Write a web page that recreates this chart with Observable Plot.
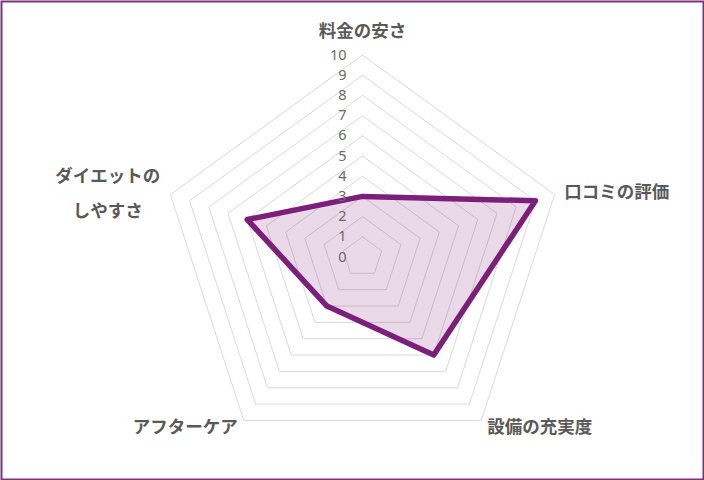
<!DOCTYPE html>
<html>
<head>
<meta charset="utf-8">
<script src="https://cdn.jsdelivr.net/npm/d3@7"></script>
<script src="https://cdn.jsdelivr.net/npm/@observablehq/plot@0.6"></script>
<style>
  html, body { margin: 0; padding: 0; background: #fff; }
  #chart svg { display: block; }
</style>
</head>
<body>
<div id="chart"></div>
<script>
const categories = ["料金の安さ", "口コミの評価", "設備の充実度", "アフターケア", "ダイエットの\nしやすさ"];
const values = [3, 9, 6, 3, 6];
const levels = [1, 2, 3, 4, 5, 6, 7, 8, 9, 10];
const tickLabels = ["0", "1", "2", "3", "4", "5", "6", "7", "8", "9", "10"];
const maxValue = 10;

const n = categories.length;
const angle = i => (2 * Math.PI * i) / n;
const px = (r, i) => r * Math.sin(angle(i));
const py = (r, i) => r * Math.cos(angle(i));

// grid pentagons
const grid = levels.flatMap(l => d3.range(n + 1).map(i => ({level: l, x: px(l, i % n), y: py(l, i % n)})));
// data polygon
const poly = values.map((v, i) => ({x: px(v, i), y: py(v, i)}));
// tick labels along the top axis
const ticks = tickLabels.map((t, k) => ({label: t, x: 0, y: k}));
// category labels
const labelR = [11.45, 10.5, 10.5, 10.5, 10.5];
const labels = categories.map((c, i) => ({label: c, x: px(labelR[i], i), y: py(labelR[i], i)}));

const cx = 362, cy = 256.5, R = 202;
const font = "'Noto Sans CJK JP', 'Noto Sans', sans-serif";
const labelStyle = {fontSize: 17.5, fontWeight: 600, fill: "#595959", lineHeight: 2.0};

const chart = Plot.plot({
  width: 704,
  height: 480,
  margin: 0,
  style: {fontFamily: font, background: "#fff"},
  x: {domain: [-maxValue, maxValue], range: [cx - R, cx + R], axis: null},
  y: {domain: [-maxValue, maxValue], range: [cy + R, cy - R], axis: null},
  marks: [
    Plot.line(grid, {x: "x", y: "y", z: "level", stroke: "#d9d9d9", strokeWidth: 1}),
    Plot.line(poly, {x: "x", y: "y", curve: "linear-closed", fill: "#7b1f7a", fillOpacity: 0.17, stroke: "#7b1f7a", strokeWidth: 5.5, strokeLinejoin: "round"}),
    Plot.text(ticks, {x: "x", y: "y", text: "label", textAnchor: "end", dx: -16, fontSize: 14.5, fill: "#6a6a6a", fontFamily: "'Noto Sans', sans-serif"}),
    Plot.text([labels[0]], {x: "x", y: "y", text: "label", textAnchor: "middle", ...labelStyle}),
    Plot.text([labels[1]], {x: "x", y: "y", text: "label", textAnchor: "start", dy: -5, ...labelStyle}),
    Plot.text([labels[2]], {x: "x", y: "y", text: "label", textAnchor: "start", dy: -7, ...labelStyle}),
    Plot.text([labels[3]], {x: "x", y: "y", text: "label", textAnchor: "end", dy: -7, ...labelStyle}),
    Plot.text([labels[4]], {x: "x", y: "y", text: "label", textAnchor: "middle", dx: -53, dy: -3, ...labelStyle}),
    Plot.frame({stroke: "#7e2f7e", strokeWidth: 2, inset: 1})
  ]
});
document.getElementById("chart").appendChild(chart);
</script>
</body>
</html>
